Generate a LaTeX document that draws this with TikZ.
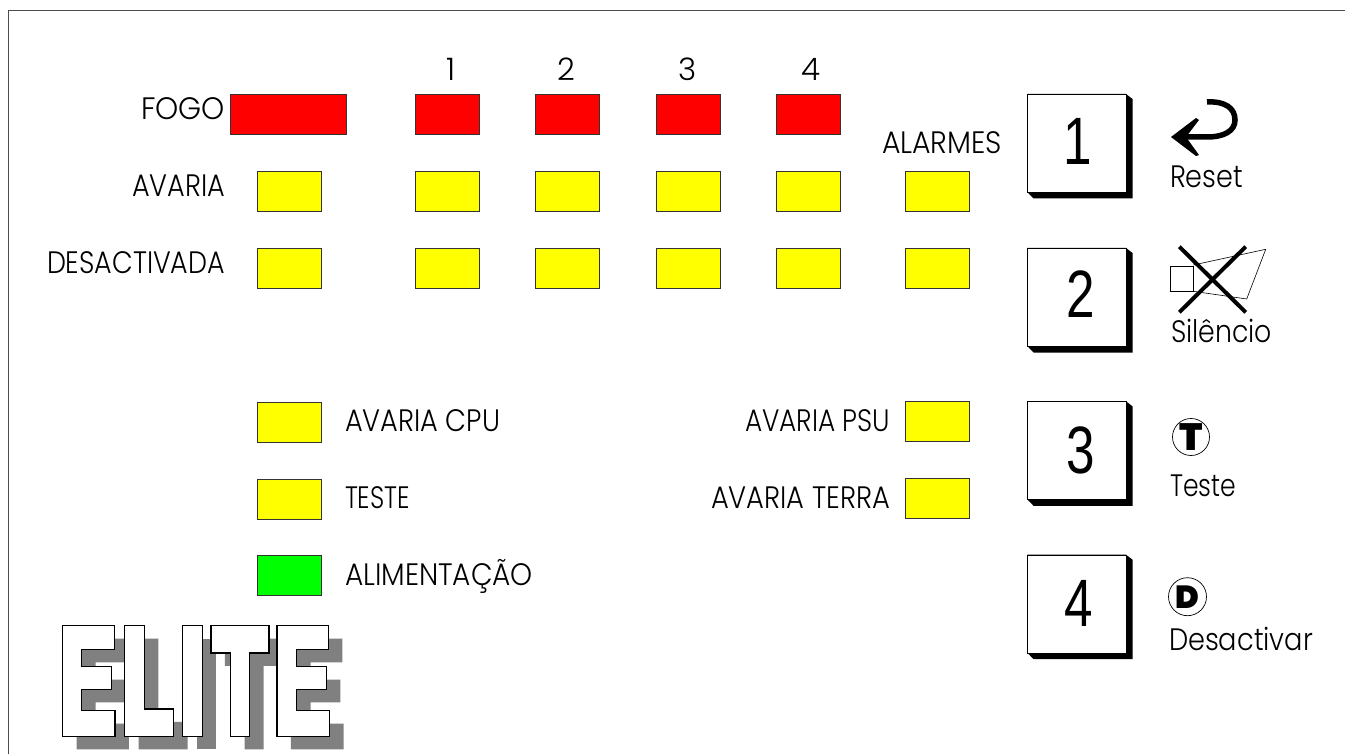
\documentclass[tikz,border=0pt]{standalone}
\usepackage{fontspec}
\setmainfont{Poppins}[UprightFont=* Light,BoldFont=* Black]
\newfontfamily\digitfont{Liberation Sans}
\newlength\fitlen
\newcommand{\fitw}[2]{\settowidth\fitlen{#2}\pgfmathsetmacro\fitr{#1/\fitlen}\scalebox{\fitr}[1]{#2}}
\definecolor{ledred}{RGB}{255,0,0}
\definecolor{ledyellow}{RGB}{255,255,0}
\definecolor{ledgreen}{RGB}{0,255,0}
\definecolor{logoshadow}{RGB}{128,128,128}
\tikzset{
  led/.style={draw=black!80,line width=0.9pt,inner sep=0pt,minimum width=64pt,minimum height=40pt,anchor=north west},
  redled/.style={led,fill=ledred},
  yelled/.style={led,fill=ledyellow},
  grnled/.style={led,fill=ledgreen},
  lbl/.style={inner sep=0pt,outer sep=0pt,text=black,font=\fontsize{31}{33}\selectfont},
  keyface/.style={draw=black,line width=0.9pt,fill=white,inner sep=0pt,minimum width=99pt,minimum height=98pt,anchor=north west},
  keynum/.style={inner sep=0pt,outer sep=0pt,font=\digitfont\fontsize{67}{70}\selectfont,anchor=base},
  logoletter/.style={draw=black,line width=1.5pt,fill=white,line join=miter},
  logoback/.style={fill=logoshadow,draw=none},
  thickstroke/.style={line width=4pt,black},
  thinstroke/.style={line width=0.6pt,black},
  badge/.style={circle,draw=black,line width=0.7pt,inner sep=0pt,minimum size=37pt}
}
\newcommand{\keycap}[4]{%
  \fill[black] (1027.3,#2) -- (1126,#2) -- (1132.5,#2+5) -- (1132.5,#2+104.5) -- (1033.5,#2+104.5) -- (1027.3,#2+98) -- cycle;
  \node[keyface] (key#1) at (1027.3,#2) {};
  \node[keynum] (num#1) at (#3,#4) {\fitw{28.5}{#1}};
}
\newcommand{\logopaths}[1]{%
  \path[#1] (128,47) -- (283,47) -- (283,118) -- (185,118) -- (185,170) -- (275,170) -- (275,238) -- (185,238) -- (185,302) -- (285,302) -- (285,379) -- (128,379) -- cycle;
  \path[#1] (314,47) -- (373,47) -- (373,297) -- (461,297) -- (461,379) -- (314,379) -- cycle;
  \path[#1] (488,47) -- (547,47) -- (547,379) -- (488,379) -- cycle;
  \path[#1] (573,47) -- (747,47) -- (747,129) -- (689,129) -- (689,379) -- (632,379) -- (632,129) -- (573,129) -- cycle;
  \path[#1] (771,47) -- (925,47) -- (925,118) -- (830,118) -- (830,170) -- (919,170) -- (919,238) -- (830,238) -- (830,302) -- (929,302) -- (929,379) -- (771,379) -- cycle;
}
\begin{document}
\begin{tikzpicture}[x=1pt,y=-1pt]
\useasboundingbox (0,0) rectangle (1345,754);
\fill[white] (0,0) rectangle (1345,754);
% frame
\coordinate (frameA) at (8.5,754);
\coordinate (frameB) at (8.5,10.5);
\coordinate (frameC) at (1345,10.5);
\draw[line width=1pt,black!70] (frameA) -- (frameB) -- (frameC);
% numbers
\node[lbl,anchor=base] (n1) at (451,81) {1};
\node[lbl,anchor=base] (n2) at (566,81) {2};
\node[lbl,anchor=base] (n3) at (688,81) {3};
\node[lbl,anchor=base] (n4) at (811,81) {4};
% LEDs
\node[redled,minimum width=116pt] (fogo) at (229.5,94) {};
\foreach \nm/\x in {a/415,b/535.3,c/655.7,d/775.8}{
  \node[redled] (r1\nm) at (\x,94) {};
  \node[yelled] (r2\nm) at (\x,171) {};
  \node[yelled] (r3\nm) at (\x,247.7) {};
}
\node[yelled] (avl) at (256.5,171) {};
\node[yelled] (dsl) at (256.5,247.7) {};
\node[yelled] (alm) at (904.5,171) {};
\node[yelled] (alm2) at (904.5,247.7) {};
\node[yelled] (cpu) at (256.5,402) {};
\node[yelled] (tst) at (256.5,478.7) {};
\node[grnled] (ali) at (256.5,555.3) {};
\node[yelled] (psu) at (904.5,401) {};
\node[yelled] (ter) at (904.5,477.7) {};
% labels
\node[lbl,anchor=base east] (tFogo) at (225,120) {\fitw{84}{FOGO}};
\node[lbl,anchor=base east] (tAvaria) at (225,196.7) {\fitw{93}{AVARIA}};
\node[lbl,anchor=base east] (tDes) at (225,273.3) {\fitw{178}{DESACTIVADA}};
\node[lbl,anchor=base west] (tAlarmes) at (882,154) {\fitw{120}{ALARMES}};
\node[lbl,anchor=base west] (tCpu) at (345,431.7) {\fitw{155}{AVARIA CPU}};
\node[lbl,anchor=base west] (tTeste) at (345,508.5) {\fitw{65}{TESTE}};
\node[lbl,anchor=base west] (tAli) at (345,585) {\fitw{188}{ALIMENTAÇÃO}};
\node[lbl,anchor=base east] (tPsu) at (890,431) {\fitw{145}{AVARIA PSU}};
\node[lbl,anchor=base east] (tTerra) at (890,508) {\fitw{179}{AVARIA TERRA}};
\node[lbl,anchor=base west] (tReset) at (1170,188) {\fitw{73}{Reset}};
\node[lbl,anchor=base west] (tSil) at (1171,342) {\fitw{101}{Silêncio}};
\node[lbl,anchor=base west] (tTes2) at (1170,496) {\fitw{66}{Teste}};
\node[lbl,anchor=base west] (tDesa) at (1169,650) {\fitw{144}{Desactivar}};
% keys
\keycap{1}{94}{1078}{165}
\keycap{2}{248}{1081}{317}
\keycap{3}{401.3}{1081}{473}
\keycap{4}{554.7}{1079}{626}
% reset arrow
\draw[line width=5.5pt,black] (1207,102) .. controls (1225,101) and (1235,108) .. (1235,120) .. controls (1235,131) and (1224,137) .. (1207,137) -- (1178,137);
\fill[black] (1171,137) -- (1196,118) -- (1199,120) -- (1186,137) -- (1199,155) -- (1196,156) -- cycle;
% silence icon
\draw[thinstroke] (1170.7,266.7) rectangle (1193.3,291.3);
\draw[thinstroke,line join=round] (1193.3,265) -- (1265.7,249.3) -- (1246.7,299) -- (1193.3,291.3);
\coordinate (xa) at (1179.3,246.7);
\coordinate (xb) at (1245.7,312.3);
\coordinate (xc) at (1245.7,246.7);
\coordinate (xd) at (1179.3,312.3);
\draw[thickstroke] (xa) -- (xb);
\draw[thickstroke] (xc) -- (xd);
% badges
\node[badge] (badgeT) at (1191,437) {};
\node[inner sep=0pt,anchor=base,font=\fontsize{38}{38}\bfseries\selectfont] (glyphT) at (1191,450.5) {T};
\node[badge,minimum size=38pt] (badgeD) at (1187.5,596.7) {};
\node[inner sep=0pt,anchor=base,font=\fontsize{32}{32}\bfseries\selectfont] (glyphD) at (1187.5,608) {D};
% logo
\begin{scope}[shift={(34,623)}]
\begin{scope}[x=0.3333pt,y=-0.3333pt]
\logopaths{logoback}
\end{scope}
\end{scope}
\begin{scope}[shift={(20,610)}]
\begin{scope}[x=0.3333pt,y=-0.3333pt]
\logopaths{logoletter}
\end{scope}
\end{scope}
\end{tikzpicture}
\end{document}
